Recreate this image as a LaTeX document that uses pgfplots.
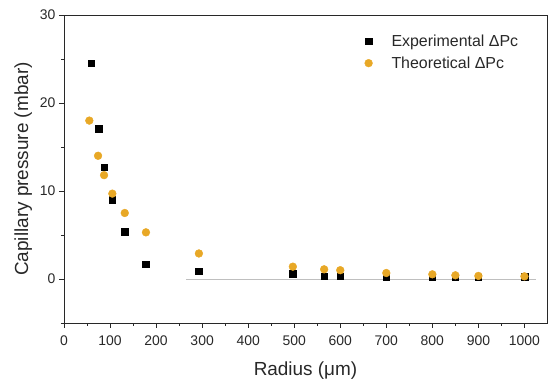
\documentclass[border=0pt]{standalone}
\usepackage{pgfplots}
\pgfplotsset{compat=1.18}
\usepackage{fontspec}
\setmainfont{Liberation Sans}
\usetikzlibrary{calc}
\definecolor{orng}{RGB}{232,168,38}
\definecolor{txt}{RGB}{40,40,40}
\begin{document}
\begin{tikzpicture}
\begin{axis}[name=ax,
  scale only axis, width=483bp, height=308bp,
  xmin=0, xmax=1049, ymin=-5, ymax=30,
  xtick={0,100,...,1000}, minor xtick={50,150,...,1050},
  ytick={0,10,20,30}, minor ytick={-5,5,15,25},
  tick align=outside, major tick length=5bp, minor tick length=3bp,
  tick style={txt, line width=0.8pt}, minor tick style={txt, line width=0.8pt},
  axis line style={txt, line width=0.8pt},
  xtick pos=bottom, ytick pos=left,
  /pgf/number format/assume math mode=true,
  /pgf/number format/1000 sep={},
  ticklabel style={font=\fontsize{14}{16}\selectfont, text=txt},
  xticklabel style={yshift=-4bp},
  xlabel={Radius (μm)}, ylabel={Capillary pressure (mbar)},
  label style={font=\fontsize{19}{21}\selectfont, text=txt},
  xlabel style={yshift=-10bp},
  ylabel style={yshift=1bp},
  legend style={at={(0.616,0.95)}, anchor=north west, draw=none, fill=none,
    font=\fontsize{16}{18}\selectfont, text=txt, row sep=5bp,
    nodes={inner ysep=2bp},
    /tikz/every odd column/.append style={column sep=17bp}},
  legend cell align=left,
  clip=false,
]
\addplot[gray!50, line width=0.9pt, forget plot] coordinates {(265,0) (1026,0)};
\addplot[only marks, mark=square*, mark size=3.3bp, black] coordinates {
(59,24.5) (75,17.1) (87,12.7) (105,9.0) (132,5.4) (178,1.7) (293,0.9)
(497,0.6) (565,0.3) (600,0.3) (700,0.25) (800,0.2) (850,0.2) (900,0.2) (1000,0.25)};
\addlegendentry{Experimental ΔPc}
\addplot[only marks, mark=*, mark size=3.9bp, orng] coordinates {
(55,18.0) (74,14.0) (87,11.8) (105,9.7) (132,7.5) (178,5.3) (293,2.9)
(497,1.4) (565,1.1) (600,1.0) (700,0.68) (800,0.53) (850,0.42) (900,0.35) (1000,0.3)};
\addlegendentry{Theoretical ΔPc}
\end{axis}
\pgfresetboundingbox
\path[use as bounding box] ($(ax.south west)+(-64bp,-62bp)$) rectangle ($(ax.north east)+(1bp,15bp)$);
\end{tikzpicture}
\end{document}
